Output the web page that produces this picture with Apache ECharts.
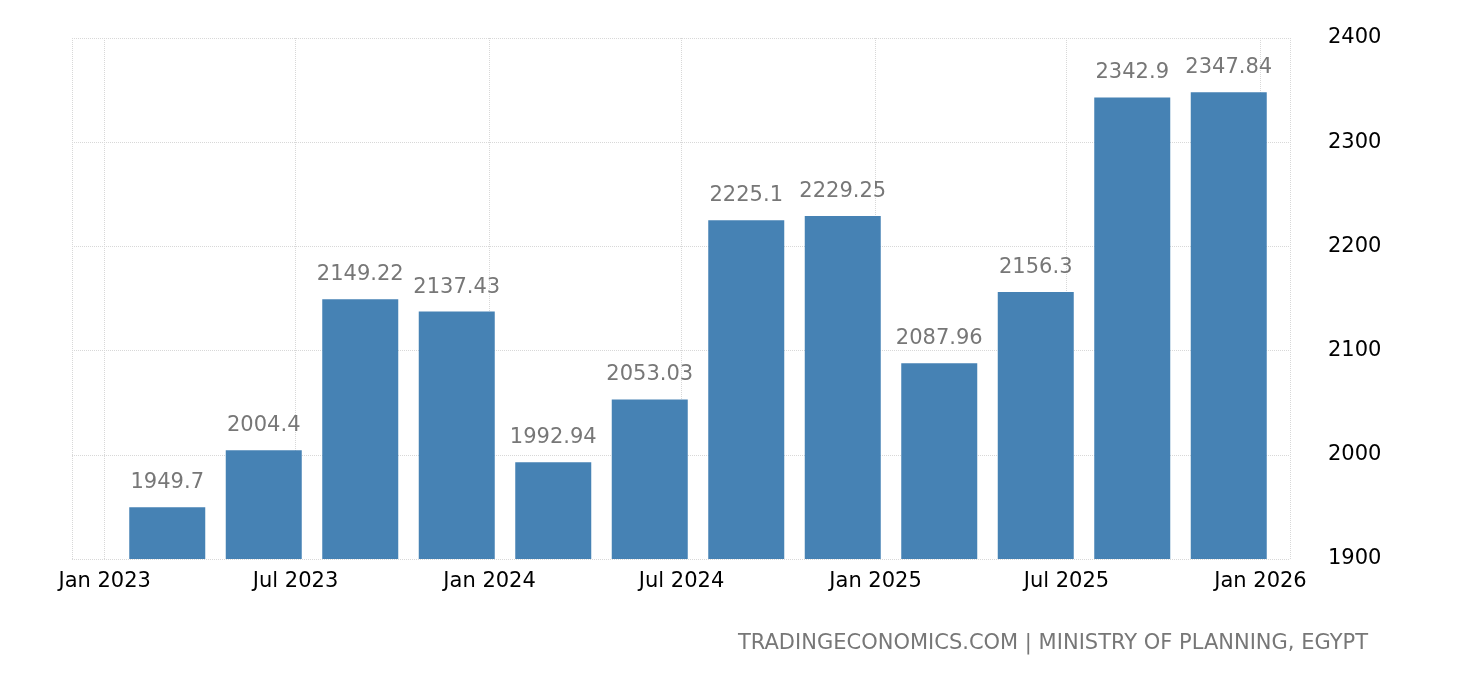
<!DOCTYPE html>
<html><head><meta charset="utf-8">
<script src="https://cdn.jsdelivr.net/npm/echarts@6/dist/echarts.min.js"></script>
<style>body{margin:0}#c{width:1460px;height:680px}</style></head>
<body><div id="c"></div>
<script>
const dates=['2023-02-28','2023-05-31','2023-08-31','2023-11-30','2024-02-29','2024-05-31','2024-08-31','2024-11-30','2025-02-28','2025-05-31','2025-08-31','2025-11-30'];
const values=[1949.7,2004.4,2149.22,2137.43,1992.94,2053.03,2225.1,2229.25,2087.96,2156.3,2342.9,2347.84];
const yTicks=[1900,2000,2100,2200,2300,2400];
const months=['Jan','Feb','Mar','Apr','May','Jun','Jul','Aug','Sep','Oct','Nov','Dec'];
const F='DejaVu Sans';
const ch=echarts.init(document.getElementById('c'));
ch.setOption({
 animation:false,
 grid:[{left:72,right:170,top:38,bottom:121},{left:119,right:183,top:38,bottom:121}],
 xAxis:[{type:'time',gridIndex:0,min:+new Date('2022-12-01'),max:+new Date('2026-01-29'),
  minInterval:182*864e5,maxInterval:184*864e5,
  axisLine:{show:false},axisTick:{show:false},
  splitLine:{show:true,lineStyle:{color:'#d8d8d8',type:'dotted'}},
  axisLabel:{color:'#000',fontSize:21,fontFamily:F,margin:12,
   formatter:v=>{const d=new Date(v);return months[d.getMonth()]+' '+d.getFullYear();}}},
  {type:'category',gridIndex:1,data:dates,show:false}],
 yAxis:[{type:'value',gridIndex:0,position:'right',min:yTicks[0],max:yTicks[yTicks.length-1],interval:100,
  axisLine:{show:false},axisTick:{show:false},
  splitLine:{lineStyle:{color:'#d8d8d8',type:'dotted'}},
  axisLabel:{color:'#000',fontSize:21,fontFamily:F,margin:38,formatter:v=>String(v)}},
  {type:'value',gridIndex:1,min:yTicks[0],max:yTicks[yTicks.length-1],show:false}],
 series:[{type:'bar',xAxisIndex:1,yAxisIndex:1,barWidth:76,itemStyle:{color:'#4682b4'},
  data:values,
  label:{show:true,position:'top',distance:14,color:'#777',fontSize:21,fontFamily:F}}],
 graphic:[{type:'text',right:92,top:633,style:{text:'TRADINGECONOMICS.COM | MINISTRY OF PLANNING, EGYPT',fill:'#777',fontSize:21,fontFamily:F}}]
});
</script></body></html>
